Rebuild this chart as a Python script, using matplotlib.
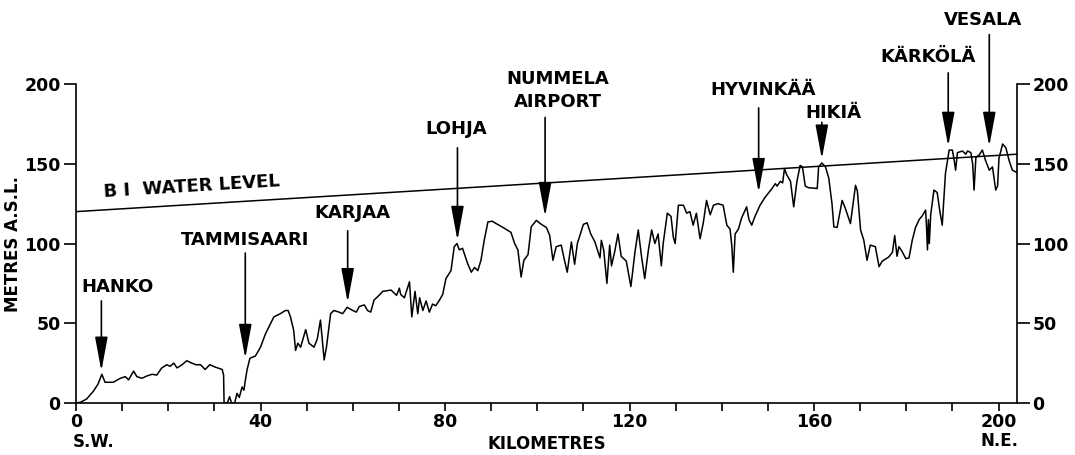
import numpy as np
import matplotlib.pyplot as plt
from matplotlib.ticker import MultipleLocator

# profile: distance (km) and height (m a.s.l.)
km = [0, 1.0, 2.3, 3.8, 4.8, 5.6, 6.3, 8.1, 9.6, 10.7, 11.4, 12.5, 13.2, 14.3, 15.4,
      16.5, 17.5, 18.6, 19.7, 20.4, 21.2, 21.9, 23.0, 24.0, 25.1, 26.0, 27.0, 28.0,
      29.0, 30.2, 31.7, 32.0, 32.1, 32.8, 33.3, 33.7, 34.4, 34.9, 35.4, 36.0, 36.4,
      36.7, 37.1, 37.7, 38.9, 40.0, 41.1, 42.2, 42.9, 44.3, 45.4, 46.0, 46.5, 47.2,
      47.6, 48.1, 48.7, 49.8, 50.5, 51.6, 52.3, 53.0, 53.8, 54.3, 55.2, 55.9, 57.0,
      57.8, 58.8, 60.0, 60.8, 61.4, 62.5, 63.2, 63.9, 64.6, 65.7, 66.5, 68.3, 69.5,
      70.1, 70.4, 71.2, 72.3, 72.8, 73.5, 74.1, 74.5, 75.2, 75.9, 76.6, 77.3, 78.0,
      78.8, 79.5, 80.2, 81.3, 82.0, 82.6, 83.1, 83.8, 84.9, 85.7, 86.4, 87.1, 87.8,
      88.5, 89.3, 90.2, 91.4, 92.9, 94.3, 95.1, 95.8, 96.5, 97.1, 98.0, 98.7, 99.8,
      100.9, 102.0, 102.7, 103.4, 104.1, 105.2, 105.9, 106.5, 107.4, 108.1, 108.7,
      110.0, 110.8, 111.6, 112.5, 113.6, 113.9, 114.4, 115.1, 115.7, 116.1, 116.8,
      117.5, 118.2, 119.3, 120.3, 121.2, 121.9, 122.6, 123.3, 124.1, 124.8, 125.5,
      126.2, 126.9, 127.3, 128.2, 129.0, 129.5, 129.9, 130.6, 131.7, 132.4, 133.1,
      133.8, 134.5, 135.3, 136.0, 136.7, 137.5, 138.2, 139.2, 140.3, 141.1, 141.8,
      142.2, 142.5, 142.9, 143.6, 144.3, 145.4, 145.9, 146.5, 147.2, 148.3, 149.4,
      150.9, 151.6, 152.0, 152.7, 153.2, 153.6, 154.1, 154.9, 155.6, 156.3, 157.0,
      157.5, 158.1, 158.8, 160.7, 161.0, 161.7, 162.5, 163.2, 163.9, 164.3, 165.0,
      166.1, 166.8, 167.9, 169.0, 169.4, 170.1, 170.8, 171.5, 172.2, 173.3, 174.1,
      174.8, 176.2, 177.0, 177.5, 178.0, 178.4, 179.1, 179.9, 180.6, 181.3, 182.0,
      182.8, 183.5, 184.2, 184.4, 184.6, 184.8, 185.0, 185.3, 186.0, 186.7, 187.3,
      187.8, 188.5, 189.3, 190.0, 190.4, 190.7, 191.1, 192.2, 192.9, 193.3, 194.0,
      194.4, 194.7, 195.1, 195.8, 196.5, 197.2, 198.0, 198.7, 199.4, 199.8, 200.1,
      200.9, 201.6, 202.3, 203.0, 204.0]
elev = [0, 0.5, 2.5, 7.5, 12, 18, 13, 13, 15.5, 16.5, 14.5, 20, 16.5, 15.5, 17,
        18, 17.5, 22, 24, 23, 25, 22, 24, 26.5, 25, 24, 24, 21,
        24, 22.5, 21, 17.5, 0, 0, 4, 0, 0, 6, 3.5, 10, 8,
        14, 21, 28, 29.5, 35, 43.5, 50, 54, 56, 58, 58, 54, 45.5,
        33, 37.5, 35, 46, 37.5, 35, 40, 52, 27, 35, 56, 58, 57,
        56, 60, 58, 57, 60.5, 61.5, 58, 57, 64.5, 67.5, 70, 70.8, 67.5,
        72, 68, 66, 76, 54, 70, 56, 66, 58, 64, 57, 62, 61,
        64.5, 68, 78, 83, 98, 100, 96, 97, 87.5, 82, 85, 83, 89.5,
        102, 113.5, 114, 112, 109.5, 107, 100, 96, 79, 89.5, 93, 110.5, 114.5,
        112, 110, 105, 89.5, 98, 99, 89.5, 82, 101, 87, 100,
        112, 113, 106, 101, 91, 102, 96, 75, 99, 86, 95,
        106, 92, 89, 73, 95, 108.5, 92, 78, 96, 108.5, 100,
        106, 86, 100, 119, 117, 104, 100, 124, 124, 119, 120,
        111.5, 119, 103, 113, 127, 118, 124, 125, 124, 111.5, 109,
        98, 82, 106, 109, 116, 123, 115, 111.5, 117, 124, 129,
        134.5, 137.5, 136, 139, 138, 147, 143, 139, 123, 139, 149,
        148, 136, 135, 134.5, 148, 150.5, 148, 141, 125, 110.5, 110,
        127, 122, 112.5, 136.5, 133, 108.5, 102, 89.5, 99, 98, 85.5,
        89, 91.5, 94.5, 105, 92, 98, 95, 90.5, 91, 102, 110,
        115, 117.5, 121, 110, 96, 115, 100, 118, 133.5, 132, 120,
        111.5, 144, 158.6, 158.6, 152, 146, 157, 158, 156, 158, 157,
        150, 133.5, 154, 155.5, 158.6, 152, 146, 148, 133.5, 136, 153.5,
        162.4, 160, 152, 146, 144.5]

# B I water level: straight line from SW to NE end
water_km = [0, 204]
water_m = [120, 156]

places = ['HANKO', 'TAMMISAARI', 'KARJAA', 'LOHJA', 'NUMMELA\nAIRPORT',
          'HYVINKÄÄ', 'HIKIÄ', 'KÄRKÖLÄ', 'VESALA']
place_km = [5.5, 36.7, 58.9, 82.7, 101.7, 148, 161.7, 189.1, 198]

# label layout: (text x, text y, arrow top, arrow tip)
layout = [(9.1, 73, 64, 20), (36.7, 102, 94, 28), (60, 119, 108, 63),
          (82.4, 172, 160, 102), (104.4, 196, 179, 117), (149, 196, 185, 132),
          (164.3, 182, 176, 153), (184.8, 217, 207, 161), (196.7, 240, 231, 161)]

plt.rcParams['font.family'] = ['DejaVu Sans']
plt.rcParams['font.weight'] = 'bold'

fig = plt.figure(figsize=(10.75, 4.55), dpi=100)
ax = fig.add_axes([0.0707, 0.1143, 0.8753, 0.701])

ax.plot(km, elev, color='black', lw=1.1)
ax.plot(water_km, water_m, color='black', lw=1.1)
ax.text(25, 135.5, 'B I  WATER LEVEL', rotation=3.5, ha='center', va='center',
        rotation_mode='anchor', fontsize=13, fontweight='bold')

for name, x, (tx, ty, top, tip) in zip(places, place_km, layout):
    ax.annotate('', xy=(x, tip), xytext=(x, top), annotation_clip=False,
                arrowprops=dict(arrowstyle='-|>,head_length=1.4,head_width=0.26',
                                mutation_scale=15, lw=1.2, color='black',
                                shrinkA=0, shrinkB=0))
    ax.text(tx, ty, name, ha='center', va='center', fontsize=13,
            fontweight='bold', linespacing=1.3, clip_on=False)

ax.set_xlim(0, 204)
ax.set_ylim(0, 200)
ax.spines['top'].set_visible(False)
for s in ['left', 'right', 'bottom']:
    ax.spines[s].set_linewidth(1.2)

ax.xaxis.set_major_locator(MultipleLocator(40))
ax.xaxis.set_minor_locator(MultipleLocator(10))
ax.yaxis.set_major_locator(MultipleLocator(50))
ax.tick_params(axis='x', which='both', direction='out', length=6, width=1.2,
               labelsize=12.5, pad=1)
ax.tick_params(axis='y', direction='out', length=9, width=1.2, labelsize=12.5,
               pad=2, right=True, labelright=True)

ax.set_ylabel('METRES A.S.L.', fontsize=12, fontweight='bold', labelpad=2)
ax.set_xlabel('KILOMETRES', fontsize=12, fontweight='bold', labelpad=3)
fig.text(94 / 1075, 1 - 442 / 455, 'S.W.', ha='center', va='center',
         fontsize=12, fontweight='bold')
fig.text(1000 / 1075, 1 - 441 / 455, 'N.E.', ha='center', va='center',
         fontsize=12, fontweight='bold')

fig.savefig('out.png', dpi=100)
